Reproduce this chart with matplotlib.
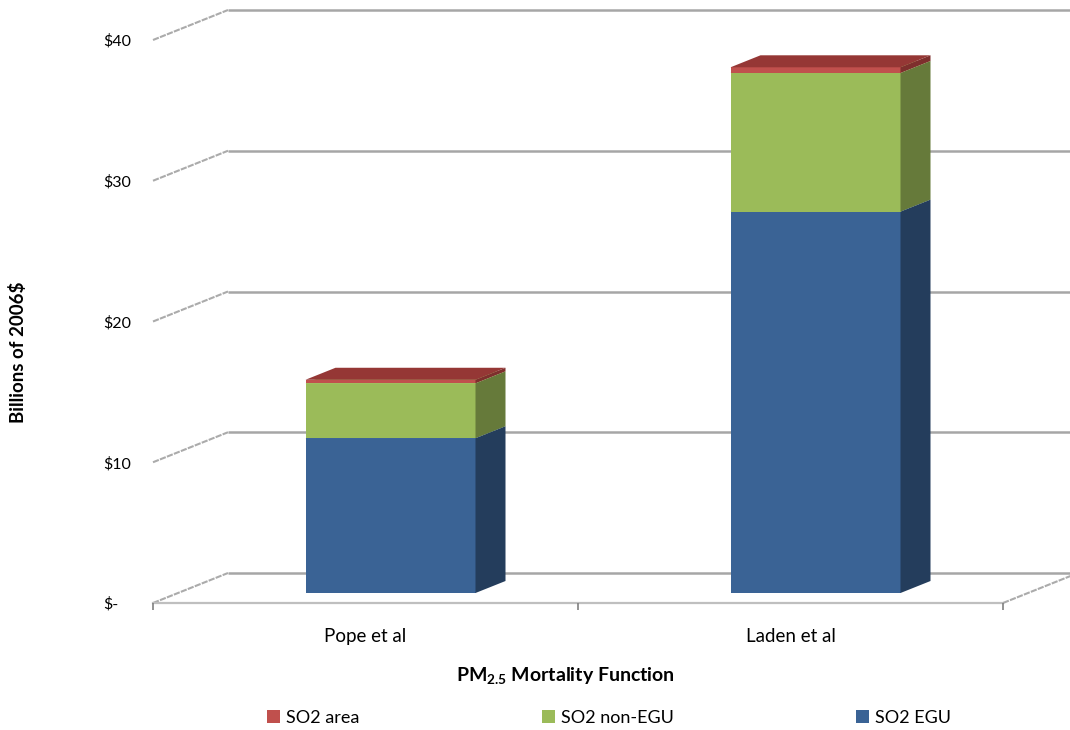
import matplotlib
matplotlib.use("Agg")
import matplotlib.pyplot as plt
from matplotlib.patches import Polygon, Patch

# ---- data -------------------------------------------------------------
categories = ["Pope et al", "Laden et al"]
so2_egu = [11.0, 27.1]
so2_non_egu = [3.9, 9.85]
so2_area = [0.25, 0.4]
series_names = ["SO2 EGU", "SO2 non-EGU", "SO2 area"]
yticks = [0, 10, 20, 30, 40]
ytick_labels = ["$-", "$10", "$20", "$30", "$40"]

# ---- style ------------------------------------------------------------
plt.rcParams['font.family'] = ['Lato', 'DejaVu Sans']
plt.rcParams['mathtext.fontset'] = 'custom'
plt.rcParams['mathtext.rm'] = 'Lato'
plt.rcParams['mathtext.bf'] = 'Lato:bold'

front_colors = {"SO2 EGU": "#3A6395", "SO2 non-EGU": "#9BBB59", "SO2 area": "#C0504D"}
side_colors = {"SO2 EGU": "#243D5C", "SO2 non-EGU": "#667A3A", "SO2 area": "#7E2F2D"}
top_colors = {"SO2 EGU": "#4A74A8", "SO2 non-EGU": "#AFCB75", "SO2 area": "#953735"}
legend_colors = {"SO2 EGU": "#3A6395", "SO2 non-EGU": "#9BBB59", "SO2 area": "#C0504D"}
grid_color = "#A6A6A6"

W, H = 1070, 730
fig = plt.figure(figsize=(W / 100, H / 100), dpi=100)
ax_left, ax_bottom, ax_w, ax_h = 153, 127, 850, 563
ax = fig.add_axes([ax_left / W, ax_bottom / H, ax_w / W, ax_h / H])
xmin, xmax = -0.5, len(categories) - 0.5
ymin, ymax = yticks[0], yticks[-1]
ax.set_xlim(xmin, xmax)
ax.set_ylim(ymin, ymax)
for s in ax.spines.values():
    s.set_visible(False)

# oblique depth of the chart box, given in pixels and converted to data units
px_per_x = ax_w / (xmax - xmin)
px_per_y = ax_h / (ymax - ymin)
depth_px = (75.0, 30.0)


def depth(f):
    return f * depth_px[0] / px_per_x, f * depth_px[1] / px_per_y


Dx, Dy = depth(1.0)

# back wall gridlines and left side wall lines
for v in yticks:
    ax.plot([xmin + Dx, xmax + Dx + 0.2], [v + Dy, v + Dy], color=grid_color,
            lw=1.8, clip_on=False, zorder=1, solid_capstyle='butt')
    ax.plot([xmin, xmin + Dx], [v, v + Dy], color="#ABABAB", lw=1.5,
            ls=(0, (3, 0.6)), clip_on=False, zorder=1)
# floor edges
ax.plot([xmin, xmax], [ymin, ymin], color="#BFBFBF", lw=1.6, clip_on=False, zorder=1)
ax.plot([xmax, xmax + Dx], [ymin, ymin + Dy], color="#ABABAB", lw=1.5,
        ls=(0, (3, 0.6)), clip_on=False, zorder=1)

# ---- 3D stacked bars --------------------------------------------------
bar_w = 0.4
d0x, d0y = depth(1 / 3)       # front face of the bars
ddx, ddy = depth(0.4)         # bar thickness
stack = [("SO2 EGU", so2_egu), ("SO2 non-EGU", so2_non_egu), ("SO2 area", so2_area)]

z = 3
for i, cat in enumerate(categories):
    bottom = 0.0
    for name, vals in stack:
        val = vals[i]
        xc = i + d0x
        xl, xr = xc - bar_w / 2, xc + bar_w / 2
        b, t = bottom + d0y, bottom + val + d0y
        ax.bar(xc, val, bottom=b, width=bar_w, color=front_colors[name],
               edgecolor='none', zorder=z)
        ax.add_patch(Polygon([(xr, b), (xr, t), (xr + ddx, t + ddy), (xr + ddx, b + ddy)],
                             closed=True, facecolor=side_colors[name],
                             edgecolor='none', zorder=z, clip_on=False))
        ax.add_patch(Polygon([(xl, t), (xr, t), (xr + ddx, t + ddy), (xl + ddx, t + ddy)],
                             closed=True, facecolor=top_colors[name],
                             edgecolor='none', zorder=z, clip_on=False))
        z += 1
        bottom += val

# ---- axes, ticks, labels ----------------------------------------------
ax.set_yticks(yticks)
ax.set_yticklabels(ytick_labels, ha='left')
ax.tick_params(axis='y', length=0, pad=36, labelsize=11.5, labelcolor='#000000')

boundaries = [xmin + k for k in range(len(categories) + 1)]
ax.set_xticks(boundaries)
ax.set_xticklabels([""] * len(boundaries))
ax.tick_params(axis='x', which='major', length=5, width=1.2, color='#808080', direction='out')
ax.set_xticks(range(len(categories)), minor=True)
ax.set_xticklabels(categories, minor=True)
ax.tick_params(axis='x', which='minor', length=0, pad=18, labelsize=13.5)

ax.set_xlabel(r"$\mathbf{PM_{2.5}}$ Mortality Function", fontsize=14, fontweight='bold')
ax.xaxis.set_label_coords((565 - ax_left) / ax_w, -(665 - (H - ax_bottom)) / ax_h)
ax.set_ylabel("Billions of 2006$", fontsize=13.5, fontweight='bold')
ax.yaxis.set_label_coords((27 - ax_left) / ax_w, ((H - ax_bottom) - 352) / ax_h)

# ---- legend -----------------------------------------------------------
legend_order = ["SO2 area", "SO2 non-EGU", "SO2 EGU"]
legend_x = [267, 542, 856]
for name, lx in zip(legend_order, legend_x):
    fig.legend(handles=[Patch(facecolor=legend_colors[name], edgecolor='none', label=name)],
               loc='center left', bbox_to_anchor=(lx / W, 1 - 718 / H),
               frameon=False, fontsize=13, handlelength=0.7, handleheight=0.7,
               handletextpad=0.35, borderaxespad=0, borderpad=0)

fig.savefig("out.png", dpi=100)
